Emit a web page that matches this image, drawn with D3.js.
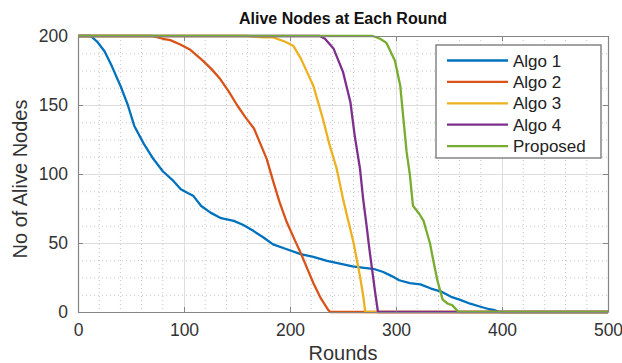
<!DOCTYPE html>
<html><head><meta charset="utf-8">
<script src="https://cdn.jsdelivr.net/npm/d3@7"></script>
<style>
body{margin:0;background:#fff;}
text{font-family:"Liberation Sans",Arial,sans-serif;}
</style></head>
<body><svg id="chart" width="622" height="363"></svg>
<script>
const seriesNames = ["Algo 1","Algo 2","Algo 3","Algo 4","Proposed"];
const colors = ["#0072BD","#D95319","#EDB120","#7E2F8E","#77AC30"];
const xTicks = [0,100,200,300,400,500];
const yTicks = [0,50,100,150,200];

const algo1Rounds = [0,12,18,25,32,40,47,53,62,71,80,90,97,104,109,116,125,135,147,156,165,175,184,195,210,222,235,247,259,270,280,288,296,303,313,323,333,342,352,360,370,379,388,392,398,500];
const algo1Values = [200,200,196,189,178,164,150,135,122,111,102,95,89,86,84,77,72,68,66,63,59,54,49,46,42,40,37,35,33,32,31,29,26,23,21,20,17,15,11,9,6,4,2,1.5,0,0];
const algo2Rounds = [0,70,80,87,96,106,112,118,126,134,142,150,158,166,172,178,184,190,197,204,210,216,222,229,236,238,500];
const algo2Values = [200,200,198,197,194,190,186,182,176,169,160,150,141,133,122,111,95,80,65,53,43,32,21,10,1.5,0,0];
const algo3Rounds = [0,160,175,184,195,203,210,216,222,231,237,244,250,255,260,266,269,271,500];
const algo3Values = [200,200,199,199,196,193,184,174,164,140,122,104,82,66,50,26,12,0,0];
const algo4Rounds = [0,228,233,241,250,257,261,266,269,272,275,280,283,500];
const algo4Values = [200,200,198,191,174,152,128,104,82,64,45,16,0,0];
const propRounds = [0,278,285,291,299,304,307,310,313,316,322,326,329,332,335,339,344,349,353,359,500];
const propValues = [200,200,198,195,182,164,140,116,100,77,71,66,58,50,38,23,9,6,5,0,0];

const seriesRounds = [algo1Rounds,algo2Rounds,algo3Rounds,algo4Rounds,propRounds];
const seriesValues = [algo1Values,algo2Values,algo3Values,algo4Values,propValues];

const svg = d3.select("#chart");
const L=78, R=608, T=36, B=312;
const x = d3.scaleLinear().domain([0,500]).range([L,R]);
const y = d3.scaleLinear().domain([0,200]).range([B,T]);
const axisCol = "#858585", textCol = "#333";

// minor grid
const g = svg.append("g");
g.selectAll(".mx").data(d3.range(0,501,20).filter(v=>v%100!==0)).join("line")
 .attr("x1",d=>x(d)).attr("x2",d=>x(d)).attr("y1",T).attr("y2",B)
 .attr("stroke","#c4c4c4").attr("stroke-width",1).attr("stroke-dasharray","1,3");
g.selectAll(".my").data(d3.range(0,201,12.5).filter(v=>v%50!==0)).join("line")
 .attr("y1",d=>y(d)+0.5).attr("y2",d=>y(d)+0.5).attr("x1",L).attr("x2",R)
 .attr("stroke","#c4c4c4").attr("stroke-width",1).attr("stroke-dasharray","1,3");
// major grid
g.selectAll(".Mx").data(xTicks.slice(1,-1)).join("line")
 .attr("x1",d=>x(d)+0.5).attr("x2",d=>x(d)+0.5).attr("y1",T).attr("y2",B)
 .attr("stroke","#dedede").attr("stroke-width",1);
g.selectAll(".My").data(yTicks.slice(1,-1)).join("line")
 .attr("y1",d=>y(d)+0.5).attr("y2",d=>y(d)+0.5).attr("x1",L).attr("x2",R)
 .attr("stroke","#dedede").attr("stroke-width",1);

// lines
const line = d3.line().x(d=>x(d[0])).y(d=>y(d[1]));
seriesNames.forEach((n,i)=>{
  const pts = seriesRounds[i].map((r,j)=>[r,seriesValues[i][j]]);
  svg.append("path").datum(pts).attr("d",line).attr("fill","none")
   .attr("stroke",colors[i]).attr("stroke-width",2.3).attr("stroke-linejoin","round");
});

// axes
function styleAxis(sel){
  sel.select(".domain").attr("stroke",axisCol).attr("stroke-width",1.2);
  sel.selectAll(".tick line").attr("stroke",axisCol);
  sel.selectAll(".tick text").attr("fill",textCol).attr("font-size","17.5px")
    .attr("font-family","Liberation Sans, Arial, sans-serif");
}
const xa = svg.append("g").attr("transform",`translate(0,${B})`)
 .call(d3.axisBottom(x).tickValues(xTicks).tickSizeInner(-5).tickSizeOuter(0).tickPadding(12));
styleAxis(xa);
const xt = svg.append("g").attr("transform",`translate(0,${T})`)
 .call(d3.axisTop(x).tickValues(xTicks).tickSizeInner(-5).tickSizeOuter(0).tickFormat(""));
styleAxis(xt);
const ya = svg.append("g").attr("transform",`translate(${L},0)`)
 .call(d3.axisLeft(y).tickValues(yTicks).tickSizeInner(-5).tickSizeOuter(0).tickPadding(10));
styleAxis(ya);
const yr = svg.append("g").attr("transform",`translate(${R},0)`)
 .call(d3.axisRight(y).tickValues(yTicks).tickSizeInner(-5).tickSizeOuter(0).tickFormat(""));
styleAxis(yr);

// titles
svg.append("text").attr("x",(L+R)/2).attr("y",24).attr("text-anchor","middle")
 .attr("font-size","16px").attr("font-weight","bold").attr("fill","#111").text("Alive Nodes at Each Round");
svg.append("text").attr("x",(L+R)/2).attr("y",360).attr("text-anchor","middle")
 .attr("font-size","20px").attr("fill",textCol).text("Rounds");
svg.append("text").attr("transform",`translate(27,179) rotate(-90)`).attr("text-anchor","middle")
 .attr("font-size","20px").attr("fill",textCol).text("No of Alive Nodes");

// legend
const lg = svg.append("g");
lg.append("rect").attr("x",436).attr("y",45).attr("width",165).attr("height",113)
 .attr("fill","#fff").attr("stroke",axisCol).attr("stroke-width",1.5);
seriesNames.forEach((n,i)=>{
  const yy = 60.5 + i*21.4;
  lg.append("line").attr("x1",447).attr("x2",508).attr("y1",yy).attr("y2",yy)
   .attr("stroke",colors[i]).attr("stroke-width",2.3);
  lg.append("text").attr("x",513).attr("y",yy+6).attr("font-size","17px").attr("fill","#222").text(n);
});
</script></body></html>
